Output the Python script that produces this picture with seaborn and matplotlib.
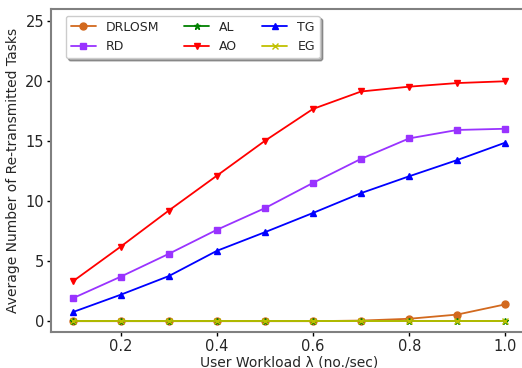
import matplotlib
matplotlib.use("Agg")
import matplotlib.pyplot as plt
import seaborn as sns
import pandas as pd

# User workload (tasks per second)
workload = [0.1, 0.2, 0.3, 0.4, 0.5, 0.6, 0.7, 0.8, 0.9, 1.0]

# Average number of re-transmitted tasks per scheme
drlosm = [0.0, 0.0, 0.0, 0.0, 0.0, 0.0, 0.05, 0.2, 0.55, 1.4]
rd = [1.9, 3.7, 5.6, 7.6, 9.4, 11.5, 13.5, 15.2, 15.9, 16.0]
al = [0.0, 0.0, 0.0, 0.0, 0.0, 0.0, 0.0, 0.0, 0.0, 0.0]
ao = [3.3, 6.2, 9.2, 12.1, 15.0, 17.65, 19.1, 19.5, 19.8, 19.95]
tg = [0.75, 2.2, 3.75, 5.85, 7.4, 9.0, 10.65, 12.05, 13.4, 14.85]
eg = [0.0, 0.0, 0.0, 0.0, 0.0, 0.0, 0.0, 0.0, 0.0, 0.0]

schemes = ["DRLOSM", "RD", "AL", "AO", "TG", "EG"]
series = [drlosm, rd, al, ao, tg, eg]

colors = ["#d2691e", "#9933ff", "#008000", "#ff0000", "#0000ff", "#c0c000"]
marker_styles = ["o", "s", "*", "v", "^", "x"]

sns.set_style("white")
plt.rcParams["font.family"] = ["DejaVu Sans"]
plt.rcParams["savefig.bbox"] = "standard"

fig = plt.figure(figsize=(5.22, 3.68), dpi=100)
ax = fig.add_axes([51 / 522, 1 - 332 / 368, 476 / 522, (332 - 8.5) / 368])

for name, vals, c, m in zip(schemes, series, colors, marker_styles):
    df = pd.DataFrame({"workload": workload, "tasks": vals})
    sns.lineplot(data=df, x="workload", y="tasks", color=c, marker=m,
                 markersize=5, linewidth=1.3, markeredgewidth=1.0,
                 markeredgecolor=c, label=name, ax=ax)

ax.set_xlim(0.055, 1.045)
ax.set_ylim(-0.9, 26.0)
ax.set_xticks([0.2, 0.4, 0.6, 0.8, 1.0])
ax.set_yticks([0, 5, 10, 15, 20, 25])
ax.tick_params(axis="both", labelsize=10.5, length=3, width=1, color="black",
               direction="out", bottom=True, left=True, pad=2)
ax.set_xlabel("User Workload λ (no./sec)", fontsize=10, labelpad=1)
ax.set_ylabel("Average Number of Re-transmitted Tasks", fontsize=10, labelpad=4)

for sp in ax.spines.values():
    sp.set_color("#808080")
    sp.set_linewidth(1.5)
ax.spines["right"].set_visible(False)

handles, labels = ax.get_legend_handles_labels()
leg = ax.legend(handles, labels, loc="upper left", ncol=3, fontsize=9,
                frameon=True, fancybox=True, shadow=True,
                bbox_to_anchor=(0.023, 0.989), borderaxespad=0.3)

fig.savefig("out.png", dpi=100)
